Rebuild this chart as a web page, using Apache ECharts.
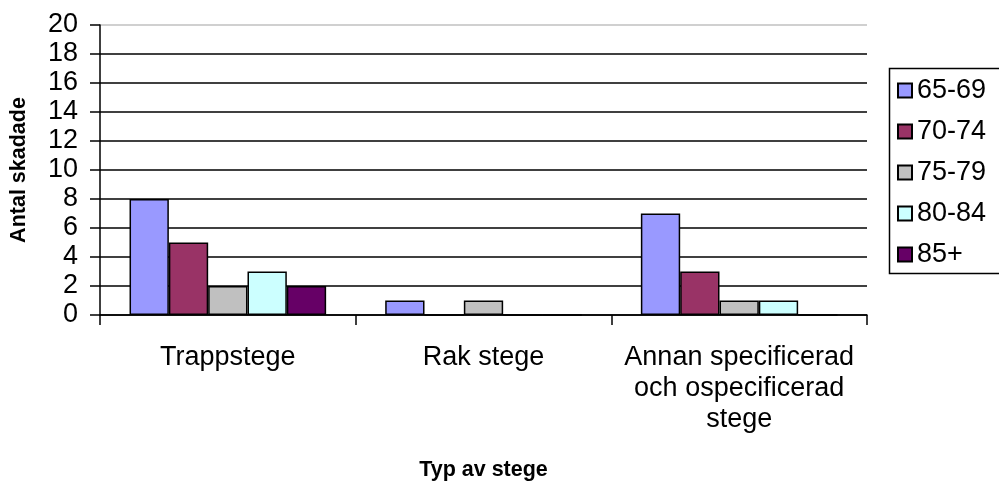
<!DOCTYPE html>
<html>
<head>
<meta charset="utf-8">
<script src="https://cdn.jsdelivr.net/npm/echarts@6/dist/echarts.min.js"></script>
<style>
  html, body { margin: 0; padding: 0; background: #fff; overflow: hidden; }
  #chart { width: 999px; height: 486px; }
</style>
</head>
<body>
<div id="chart"></div>
<script>
// Ladder types and injured counts per age group
const categories = ['Trappstege', 'Rak stege', 'Annan specificerad\noch ospecificerad\nstege'];
const ageGroups = ['65-69', '70-74', '75-79', '80-84', '85+'];
const age65_69 = [8, 1, 7];
const age70_74 = [5, 0, 3];
const age75_79 = [2, 1, 1];
const age80_84 = [3, 0, 1];
const age85plus = [2, 0, 0];
const yTicks = [0, 20, 2]; // min, max, step

const seriesValues = [age65_69, age70_74, age75_79, age80_84, age85plus];
const colors = ['#9999FF', '#993366', '#C0C0C0', '#CCFFFF', '#660066'];
const font = 'Arial, "Liberation Sans", sans-serif';
const lineW = 1.5;

// Horizontal grid lines: black, except the top line which is grey
const splitColors = [];
for (let v = yTicks[0]; v <= yTicks[1]; v += yTicks[2]) {
  splitColors.push(v === yTicks[1] ? '#C0C0C0' : '#000000');
}

const chart = echarts.init(document.getElementById('chart'), null, { renderer: 'canvas' });
chart.setOption({
  animation: false,
  backgroundColor: '#ffffff',
  textStyle: { fontFamily: font, color: '#000' },
  grid: { left: 97, right: 132, top: 25, bottom: 170, containLabel: false },
  // Legend frame: top, left and bottom edges; the right side runs off the canvas
  graphic: [{
    type: 'polyline',
    shape: { points: [[1010, 68.5], [889.5, 68.5], [889.5, 273.5], [1010, 273.5]] },
    style: { fill: null, stroke: '#000', lineWidth: lineW },
    silent: true
  }],
  legend: {
    orient: 'vertical',
    left: 889,
    top: 68,
    padding: [9, 10, 6, 8],
    itemGap: 14,
    itemWidth: 14,
    itemHeight: 14,
    borderWidth: 0,
    icon: 'rect',
    textStyle: { fontFamily: font, fontSize: 27, lineHeight: 27, color: '#000' },
    data: ageGroups
  },
  xAxis: {
    type: 'category',
    data: categories,
    name: 'Typ av stege',
    nameLocation: 'middle',
    nameGap: 144,
    nameTextStyle: { fontFamily: font, fontSize: 21.5, fontWeight: 'bold', color: '#000' },
    axisLine: { lineStyle: { color: '#000', width: lineW } },
    axisTick: { show: true, length: 10, alignWithLabel: false, lineStyle: { color: '#000', width: lineW } },
    axisLabel: { fontFamily: font, fontSize: 27, lineHeight: 31, color: '#000', margin: 27, interval: 0 },
    splitLine: { show: false }
  },
  yAxis: {
    type: 'value',
    min: yTicks[0],
    max: yTicks[1],
    interval: yTicks[2],
    name: 'Antal skadade',
    nameLocation: 'middle',
    nameGap: 70,
    nameTextStyle: { fontFamily: font, fontSize: 21.5, fontWeight: 'bold', color: '#000' },
    axisLine: { show: true, lineStyle: { color: '#000', width: lineW } },
    axisTick: { show: true, length: 10, lineStyle: { color: '#000', width: lineW } },
    axisLabel: { fontFamily: font, fontSize: 27, color: '#000', margin: 22 },
    splitLine: { show: true, lineStyle: { color: splitColors, width: lineW } }
  },
  series: ageGroups.map((name, i) => ({
    name: name,
    type: 'bar',
    data: seriesValues[i],
    barGap: '0%',
    barCategoryGap: '23.1%',
    itemStyle: { color: colors[i], borderColor: '#000', borderWidth: lineW }
  }))
});
</script>
</body>
</html>
